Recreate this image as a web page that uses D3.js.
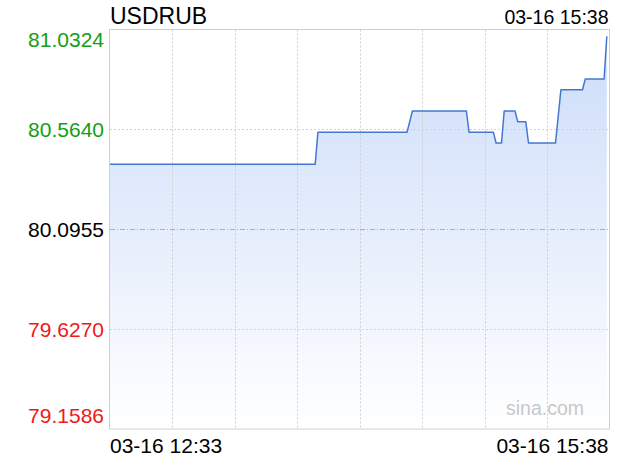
<!DOCTYPE html>
<html>
<head>
<meta charset="utf-8">
<script src="https://cdn.jsdelivr.net/npm/d3@7"></script>
<style>
html,body{margin:0;padding:0;background:#fff;}
svg{display:block;font-family:"Liberation Sans",Arial,Helvetica,sans-serif;}
</style>
</head>
<body>
<svg id="chart" width="620" height="460"></svg>
<script>
// ---- data ----
const symbol = "USDRUB";
const dateLabel = "03-16";
const startTime = "12:33";
const endTime = "15:38";
const times = ["12:33","13:49","13:50","14:23","14:25","14:45","14:46","14:55","14:56","14:58","14:59","15:03","15:04","15:07","15:08","15:18","15:20","15:28","15:29","15:36","15:37"];
const prices = [80.40,80.40,80.55,80.55,80.65,80.65,80.55,80.55,80.50,80.50,80.65,80.65,80.60,80.60,80.50,80.50,80.75,80.75,80.80,80.80,81.00];
const yTickValues = [81.0324, 80.5640, 80.0955, 79.6270, 79.1586];
const yTickLabels = ["81.0324","80.5640","80.0955","79.6270","79.1586"];
const prevClose = 80.0955;
const watermark = "sina.com";

// ---- layout ----
const svg = d3.select("#chart");
const L = 110, R = 609.5, T = 29.5, B = 429;
const parse = d3.timeParse("%H:%M");
const t0 = parse(startTime), t1 = parse(endTime);
const x = d3.scaleTime().domain([t0, t1]).range([L, R]);
const y = d3.scaleLinear().domain([yTickValues[4], yTickValues[0]]).range([B, T]);

const data = times.map((t, i) => ({t: parse(t), v: prices[i]}));

// gradient
const defs = svg.append("defs");
const g = defs.append("linearGradient").attr("id","fillGrad")
  .attr("gradientUnits","userSpaceOnUse").attr("x1",0).attr("x2",0).attr("y1",T).attr("y2",B);
g.append("stop").attr("offset","0").attr("stop-color","#cbdcf9");
g.append("stop").attr("offset","1").attr("stop-color","#ffffff");

// area
const area = d3.area().x(d => x(d.t)).y0(B).y1(d => y(d.v));
svg.append("path").datum(data).attr("d", area).attr("fill","url(#fillGrad)");

// vertical gridlines
const vTicks = d3.range(1, 8).map(k => new Date(+t0 + k * (t1 - t0) / 8));
svg.append("g").selectAll("line").data(vTicks).join("line")
  .attr("x1", d => Math.round(x(d)) + 0.5).attr("x2", d => Math.round(x(d)) + 0.5)
  .attr("y1", T).attr("y2", B)
  .attr("stroke","#cfcfcf").attr("stroke-width",1).attr("stroke-dasharray","2,2");

// horizontal gridlines
const hTicks = yTickValues.slice(1, 4);
svg.append("g").selectAll("line").data(hTicks).join("line")
  .attr("x1", L).attr("x2", R)
  .attr("y1", d => Math.round(y(d)) + 0.5).attr("y2", d => Math.round(y(d)) + 0.5)
  .attr("stroke", d => d === prevClose ? "#a8b0c0" : "#d4d4d4")
  .attr("stroke-width",1)
  .attr("stroke-dasharray", d => d === prevClose ? "5,2,1,2" : "2,2");

// line
const line = d3.line().x(d => x(d.t)).y(d => y(d.v));
svg.append("path").datum(data).attr("d", line)
  .attr("fill","none").attr("stroke","#4577d2").attr("stroke-width",1.5)
  .attr("stroke-linejoin","round");

// border
svg.append("rect").attr("x", L - 0.5).attr("y", T).attr("width", R - L + 0.5).attr("height", B - T)
  .attr("fill","none").attr("stroke","#d0d0d0").attr("stroke-width",1);

// y labels
const yColor = v => v > prevClose ? "#12a012" : (v < prevClose ? "#f01818" : "#000");
svg.append("g").selectAll("text").data(yTickValues).join("text")
  .attr("x", 104)
  .attr("y", (d, i) => i === 0 ? y(d) + 17 : (i === 4 ? y(d) - 6 : y(d) + 7.5))
  .attr("text-anchor","end")
  .attr("font-size", 21)
  .attr("fill", d => yColor(d))
  .text((d, i) => yTickLabels[i]);

// x labels
svg.append("text").attr("x", x(t0)).attr("y", 453).attr("font-size", 21).attr("fill","#000")
  .text(dateLabel + " " + startTime);
svg.append("text").attr("x", x(t1) - 1).attr("y", 453).attr("font-size", 21).attr("fill","#000")
  .attr("text-anchor","end").text(dateLabel + " " + endTime);

// title
svg.append("text").attr("x", L).attr("y", 23.5).attr("font-size", 23).attr("fill","#000").text(symbol);
svg.append("text").attr("x", x(t1) - 1).attr("y", 24).attr("font-size", 19.5).attr("fill","#000")
  .attr("text-anchor","end").text(dateLabel + " " + endTime);

// watermark
svg.append("text").attr("x", 584).attr("y", 415).attr("font-size", 19.5).attr("fill","#c8c8c8")
  .attr("text-anchor","end").text(watermark);
</script>
</body>
</html>
